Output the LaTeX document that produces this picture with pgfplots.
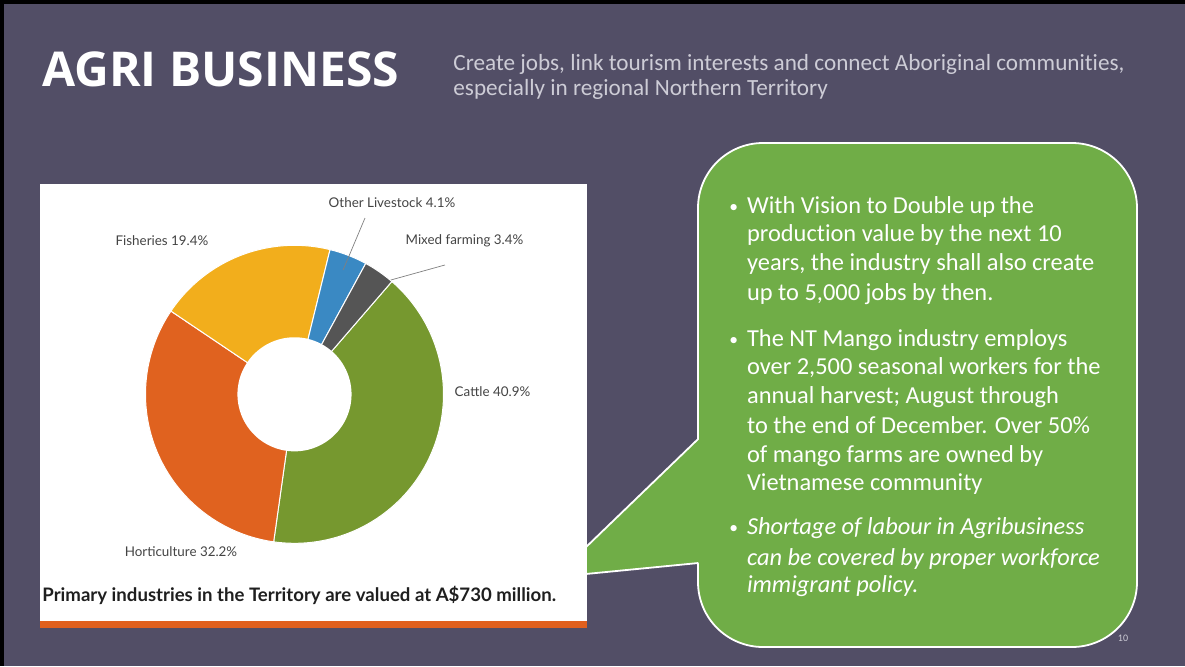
\documentclass[border=0pt]{standalone}
\usepackage{pgfplots}
\pgfplotsset{compat=1.18}
\usepackage{fontspec}
\setmainfont[Ligatures=NoCommon]{Carlito}
\newfontfamily\lato{Lato}
\newfontfamily\opensans{Open Sans}
\definecolor{bg}{HTML}{524E66}
\definecolor{callgreen}{HTML}{70AD47}
\definecolor{cattle}{HTML}{76982F}
\definecolor{hort}{HTML}{E0621F}
\definecolor{fish}{HTML}{F2AE1C}
\definecolor{olive}{HTML}{3A89C3}
\definecolor{mixed}{HTML}{555555}
\definecolor{labelgray}{HTML}{444444}
\definecolor{subgray}{HTML}{CDCCD6}
\definecolor{orangebar}{HTML}{E0601E}
\newcommand\bl[3]{\node[anchor=base west, inner sep=0pt, text=white, font=\fontsize{12.2}{14}\selectfont] at (#1,#2) {#3};}
\newcommand\bul{\raisebox{0.5pt}{\scalebox{0.72}{\textbullet}}}
\begin{document}
\begin{tikzpicture}
\begin{scope}[x=0.5pt,y=-0.5pt]
\fill[bg] (0,0) rectangle (1185,666);
\fill[black] (0,0) rectangle (1185,4);
\fill[black] (0,0) rectangle (4,666);
% title
\node[anchor=base west, inner sep=0pt, text=white, font=\opensans\bfseries\fontsize{24}{28}\selectfont] at (42,86) {AGRI BUSINESS};
\node[anchor=base west, inner sep=0pt, text=subgray, font=\fontsize{11.6}{13}\selectfont] at (453,70) {Create jobs, link tourism interests and connect Aboriginal communities,};
\node[anchor=base west, inner sep=0pt, text=subgray, font=\fontsize{11.6}{13}\selectfont] at (453,95) {especially in regional Northern Territory};
% callout
\draw[white, line width=0.9pt, fill=callgreen, rounded corners=32.5pt] (698,143) rectangle (1137,647);
\fill[callgreen] (555,577) -- (698,439) -- (700,439) -- (700,563) -- (698,563) -- cycle;
\draw[white, line width=0.9pt] (698.4,438.7) -- (555,577);
\draw[white, line width=0.9pt] (555,577) -- (698.4,563);
% panel
\fill[white] (40,184) rectangle (587,628);
\fill[orangebar] (40,621) rectangle (587,628);
\node[anchor=base west, inner sep=0pt, text=black!88, font=\lato\bfseries\fontsize{9.3}{11}\selectfont] at (42,601) {Primary industries in the Territory are valued at A\$730 million.};
% labels
\node[text=labelgray, inner sep=0pt, font=\lato\fontsize{6.7}{8}\selectfont] at (392,203) {Other Livestock 4.1\%};
\node[text=labelgray, inner sep=0pt, font=\lato\fontsize{6.7}{8}\selectfont] at (464.5,241) {Mixed farming 3.4\%};
\node[text=labelgray, inner sep=0pt, font=\lato\fontsize{6.7}{8}\selectfont] at (162,241) {Fisheries 19.4\%};
\node[text=labelgray, inner sep=0pt, font=\lato\fontsize{6.7}{8}\selectfont] at (492.5,392) {Cattle 40.9\%};
\node[text=labelgray, inner sep=0pt, font=\lato\fontsize{6.7}{8}\selectfont] at (181,552) {Horticulture 32.2\%};
% bullets
\bl{729}{213}{\bul}
\bl{746.7}{213}{With Vision to Double up the}
\bl{746.7}{241.6}{production value by the next 10}
\bl{746.7}{270.3}{years, the industry shall also create}
\bl{746.7}{300.6}{up to 5,000 jobs by then.}
\bl{729}{346}{\bul}
\bl{746.7}{346}{The NT Mango industry employs}
\bl{746.7}{374.7}{over 2,500 seasonal workers for the}
\bl{746.7}{403.3}{annual harvest; August through}
\bl{746.7}{433}{to the end of December. Over 50\%}
\bl{746.7}{462.3}{of mango farms are owned by}
\bl{746.7}{490.9}{Vietnamese community}
\bl{729}{534.7}{\bul}
\bl{746.7}{534.7}{\itshape Shortage of labour in Agribusiness}
\bl{746.7}{565}{\itshape can be covered by proper workforce}
\bl{746.7}{592.6}{\itshape immigrant policy.}
\node[text=subgray, inner sep=0pt, font=\fontsize{5}{6}\selectfont] at (1123,638) {10};
\end{scope}
\pgfmathsetmacro\aA{49.2}
\pgfmathsetmacro\aB{\aA-40.9*3.6}
\pgfmathsetmacro\aC{\aB-32.2*3.6}
\pgfmathsetmacro\aD{\aC-19.4*3.6}
\pgfmathsetmacro\aE{\aD-4.1*3.6}
\pgfmathsetmacro\aF{\aE-3.4*3.6}
\begin{axis}[at={(147.25pt,-197.15pt)}, anchor=center, width=149pt, height=149pt,
  scale only axis, xmin=-1, xmax=1, ymin=-1, ymax=1, hide axis, clip=false]
\addplot[fill=cattle, draw=white, line width=0.5pt, domain=\aB:\aA, samples=80] ({cos(x)},{sin(x)}) -- (0,0) -- cycle;
\addplot[fill=hort, draw=white, line width=0.5pt, domain=\aC:\aB, samples=70] ({cos(x)},{sin(x)}) -- (0,0) -- cycle;
\addplot[fill=fish, draw=white, line width=0.5pt, domain=\aD:\aC, samples=50] ({cos(x)},{sin(x)}) -- (0,0) -- cycle;
\addplot[fill=olive, draw=white, line width=0.5pt, domain=\aE:\aD, samples=20] ({cos(x)},{sin(x)}) -- (0,0) -- cycle;
\addplot[fill=mixed, draw=white, line width=0.5pt, domain=\aF:\aE, samples=20] ({cos(x)},{sin(x)}) -- (0,0) -- cycle;
\addplot[fill=white, draw=none, domain=0:360, samples=100] ({0.383*cos(x)},{0.383*sin(x)});
\addplot[gray, line width=0.35pt] coordinates {(0.473,1.183) (0.326,0.834)};
\addplot[gray, line width=0.35pt] coordinates {(1.010,0.868) (0.646,0.767)};
\end{axis}
\end{tikzpicture}
\end{document}
